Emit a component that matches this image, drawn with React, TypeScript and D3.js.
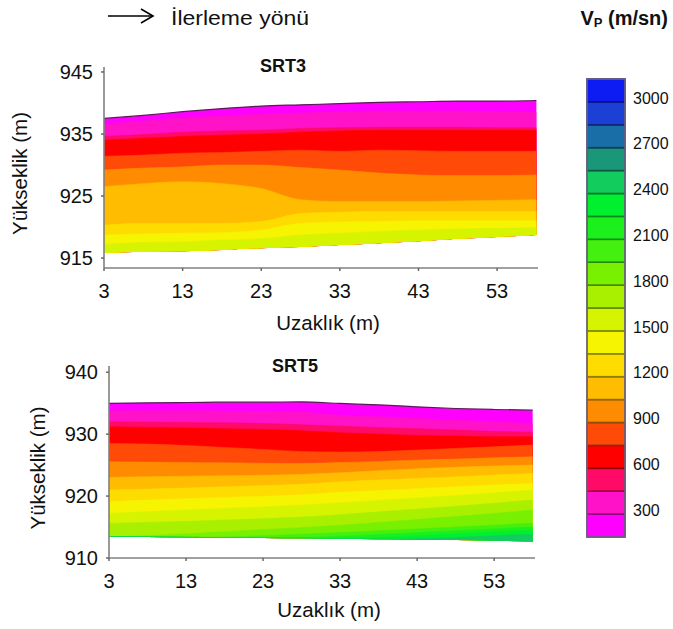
import React from 'react';
import * as d3 from 'd3';

// ---------- DATA ----------
const stations = [3, 8, 13, 18, 23, 28, 33, 38, 43, 48, 53, 58];
const xTicks = [3, 13, 23, 33, 43, 53];

// SRT3 profile: surface, base and iso-velocity lines (elevation, m)
const srt3YTicks = [915, 925, 935, 945];
const srt3Top = [937.5, 938.0, 938.6, 939.1, 939.5, 939.7, 939.9, 940.1, 940.2, 940.3, 940.3, 940.4];
const srt3Bottom = [915.8, 916.0, 916.1, 916.3, 916.6, 916.8, 917.1, 917.4, 917.7, 918.1, 918.4, 918.7];
const srt3Levels = [300, 450, 600, 750, 900, 1050, 1200, 1350, 1500];
const srt3Isolines = [
  [936.6, 937.1, 937.6, 937.9, 938.2, 938.4, 938.6, 938.7, 938.7, 938.7, 938.6, 938.5],
  [934.6, 934.9, 935.3, 935.5, 935.6, 935.9, 936.0, 936.1, 936.1, 936.1, 936.0, 936.0],
  [934.0, 934.3, 934.6, 934.8, 935.0, 935.3, 935.5, 935.6, 935.6, 935.6, 935.6, 935.6],
  [931.4, 931.6, 931.9, 932.0, 932.2, 932.4, 932.2, 932.4, 932.3, 932.2, 932.2, 932.2],
  [929.2, 929.5, 929.7, 930.0, 930.0, 929.6, 929.2, 928.7, 928.4, 928.3, 928.3, 928.4],
  [926.5, 927.0, 927.3, 927.0, 926.2, 924.4, 924.1, 924.1, 924.1, 924.2, 924.3, 924.4],
  [920.3, 920.6, 920.6, 920.6, 920.9, 922.2, 922.4, 922.5, 922.5, 922.5, 922.5, 922.5],
  [918.7, 918.9, 919.0, 919.1, 919.5, 920.6, 920.8, 920.9, 921.0, 921.0, 921.0, 921.0],
  [917.2, 917.5, 917.6, 917.9, 918.1, 918.7, 919.0, 919.3, 919.5, 919.7, 919.8, 919.9],
];

// SRT5 profile
const srt5YTicks = [910, 920, 930, 940];
const srt5Top = [934.95, 935.05, 935.11, 935.16, 935.16, 935.22, 934.95, 934.73, 934.41, 934.14, 933.98, 933.87];
const srt5Bottom = [913.44, 913.39, 913.33, 913.28, 913.23, 913.17, 913.1, 913.01, 912.95, 912.9, 912.8, 912.63];
const srt5Levels = [300, 450, 600, 750, 900, 1050, 1200, 1350, 1500, 1650, 1800, 1950, 2100, 2250, 2400];
const srt5Isolines = [
  [933.76, 933.76, 933.76, 933.71, 933.66, 933.55, 933.06, 932.8, 932.53, 932.26, 931.99, 931.72],
  [931.99, 931.94, 931.88, 931.83, 931.72, 931.51, 931.29, 931.08, 930.86, 930.65, 930.43, 930.32],
  [931.18, 931.08, 930.97, 930.86, 930.75, 930.54, 930.22, 930.0, 929.79, 929.68, 929.57, 929.57],
  [928.5, 928.39, 928.17, 927.85, 927.53, 927.19, 927.1, 927.19, 927.42, 927.69, 927.96, 928.23],
  [925.54, 925.48, 925.43, 925.38, 925.3, 925.25, 925.4, 925.6, 925.8, 925.97, 926.18, 926.34],
  [923.01, 923.12, 923.2, 923.28, 923.35, 923.5, 923.75, 924.1, 924.4, 924.65, 924.85, 925.0],
  [920.97, 921.13, 921.29, 921.51, 921.7, 921.9, 922.3, 922.6, 922.85, 923.1, 923.4, 923.66],
  [919.09, 919.36, 919.57, 919.78, 919.95, 920.2, 920.6, 920.9, 921.2, 921.5, 921.8, 922.04],
  [917.2, 917.47, 917.74, 918.01, 918.25, 918.55, 918.9, 919.3, 919.7, 920.1, 920.5, 920.97],
  [915.59, 915.75, 915.91, 916.13, 916.35, 916.6, 917.0, 917.45, 917.9, 918.35, 918.85, 919.36],
  [913.44, 913.6, 913.9, 914.25, 914.6, 914.9, 915.3, 915.75, 916.2, 916.7, 917.2, 917.74],
  [913.44, 913.39, 913.33, 913.4, 913.6, 913.85, 914.1, 914.4, 914.7, 915.0, 915.3, 915.6],
  [913.44, 913.39, 913.33, 913.28, 913.23, 913.3, 913.5, 913.8, 914.1, 914.4, 914.7, 915.0],
  [913.44, 913.39, 913.33, 913.28, 913.23, 913.17, 913.1, 913.3, 913.6, 913.9, 914.2, 914.5],
  [913.44, 913.39, 913.33, 913.28, 913.23, 913.17, 913.1, 913.01, 913.1, 913.3, 913.6, 913.85],
];

// Colour scale (Vp, m/sn)
const legendBreaks = [150, 300, 450, 600, 750, 900, 1050, 1200, 1350, 1500, 1650, 1800, 1950, 2100, 2250, 2400, 2550, 2700, 2850, 3000, 3150];
const legendColors = [
  '#ff00ff', '#ff12c8', '#ff0a66', '#ff0000', '#ff4a08', '#ff8c00', '#ffbc00', '#ffdc00', '#f6f400', '#d6f400',
  '#a8f000', '#78f000', '#44f010', '#1cf01c', '#00f030', '#12cc5e', '#1a9678', '#1a6ea8', '#1c40d6', '#0c1cf2',
];
const legendLabels = [300, 600, 900, 1200, 1500, 1800, 2100, 2400, 2700, 3000];

// ---------- COMPONENTS ----------
const FONT = '"Liberation Sans", Arial, Helvetica, sans-serif';

const colorOf = d3.scaleThreshold<number, string>()
  .domain(legendBreaks.slice(1, -1))
  .range(legendColors);

type ProfileProps = {
  id: string;
  title: string;
  titleX: number;
  titleY: number;
  top: number[];
  bottom: number[];
  levels: number[];
  isolines: number[][];
  yTicks: number[];
  xRange: [number, number];
  xDomain: [number, number];
  yRange: [number, number];
  yDomain: [number, number];
  yLabelX: number;
  xLabelY: number;
  xTickY: number;
};

function Profile(p: ProfileProps) {
  const x = d3.scaleLinear().domain(p.xDomain).range(p.xRange);
  const y = d3.scaleLinear().domain(p.yDomain).range(p.yRange);
  const idx = stations.map((_, i) => i);
  const uppers = [p.top, ...p.isolines];
  const values = [...p.levels.map((v) => v - 1), p.levels[p.levels.length - 1] + 1];
  const areaOf = (upper: number[]) =>
    d3.area<number>()
      .x((i) => x(stations[i]))
      .y0((i) => y(p.bottom[i]))
      .y1((i) => y(upper[i]))
      .curve(d3.curveMonotoneX)(idx) as string;
  const topLine = d3.line<number>().x((i) => x(stations[i])).y((i) => y(p.top[i])).curve(d3.curveMonotoneX)(idx) as string;
  const [x0, x1] = p.xRange;
  const [yb, yt] = p.yRange;
  const midY = (yb + yt) / 2 + 6;
  return (
    <g>
      <defs>
        <clipPath id={`clip-${p.id}`}>
          <path d={areaOf(p.top)} />
        </clipPath>
      </defs>
      <g clipPath={`url(#clip-${p.id})`}>
        {uppers.map((u, k) => (
          <path key={k} d={areaOf(u)} fill={colorOf(values[k])} stroke={colorOf(values[k])} strokeWidth={0.6} />
        ))}
      </g>
      <path d={topLine} fill="none" stroke="#5a1a5a" strokeWidth={1.2} />
      {/* axes */}
      <line x1={x0} x2={x1} y1={yb} y2={yb} stroke="#808080" strokeWidth={1.6} />
      <line x1={x0} x2={x0} y1={yb} y2={yt} stroke="#808080" strokeWidth={1.6} />
      {xTicks.map((t) => (
        <g key={t}>
          <line x1={x(t)} x2={x(t)} y1={yb} y2={yb + 3} stroke="#606060" strokeWidth={1.4} />
          <text x={x(t)} y={p.xTickY} textAnchor="middle" fontFamily={FONT} fontSize={20} fill="#111">{t}</text>
        </g>
      ))}
      {p.yTicks.map((t) => (
        <g key={t}>
          <line x1={x0 - 3} x2={x0} y1={y(t)} y2={y(t)} stroke="#606060" strokeWidth={1.4} />
          <text x={x0 - 11} y={y(t)} dy="0.36em" textAnchor="end" fontFamily={FONT} fontSize={20} fill="#111">{t}</text>
        </g>
      ))}
      <text x={(x0 + x1) / 2 + 7} y={p.xLabelY} textAnchor="middle" fontFamily={FONT} fontSize={20.5} fill="#111">Uzaklık (m)</text>
      <text transform={`translate(${p.yLabelX},${midY}) rotate(-90)`} textAnchor="middle" fontFamily={FONT} fontSize={20.5} fill="#111">Yükseklik (m)</text>
      <text x={p.titleX} y={p.titleY} textAnchor="middle" fontFamily={FONT} fontSize={18} fontWeight="bold" fill="#111">{p.title}</text>
    </g>
  );
}

function Legend() {
  const ly = d3.scaleLinear().domain([legendBreaks[0], legendBreaks[legendBreaks.length - 1]]).range([537, 79]);
  const bx = 587;
  const bw = 38;
  return (
    <g>
      {legendColors.map((c, i) => (
        <rect key={i} x={bx} y={ly(legendBreaks[i + 1])} width={bw} height={ly(legendBreaks[i]) - ly(legendBreaks[i + 1])}
          fill={c} stroke={d3.color(c)!.darker(1.6).formatHex()} strokeWidth={1.6} />
      ))}
      <rect x={bx} y={ly(legendBreaks[legendBreaks.length - 1])} width={bw}
        height={ly(legendBreaks[0]) - ly(legendBreaks[legendBreaks.length - 1])} fill="none" stroke="#6f6688" strokeWidth={1.6} />
      {legendLabels.map((v) => (
        <text key={v} x={633} y={ly(v) - 4} dy="0.36em" fontFamily={FONT} fontSize={16} fill="#111">{v}</text>
      ))}
    </g>
  );
}

export default function App() {
  return (
    <svg width={673} height={629} viewBox="0 0 673 629" style={{ position: 'absolute', left: 0, top: 0, background: '#fff' }}>
      <rect width={673} height={629} fill="#fff" />
      {/* header */}
      <g stroke="#000" strokeWidth={1.6} fill="none">
        <line x1={108} x2={153} y1={16} y2={16} />
        <polyline points="141,9 153,16 141,23" />
      </g>
      <text x={171} y={25} fontFamily={FONT} fontSize={20.5} fill="#111" textLength={138} lengthAdjust="spacingAndGlyphs">İlerleme yönü</text>
      <text x={668} y={25} textAnchor="end" fontFamily={FONT} fontSize={20} fontWeight="bold" fill="#111">
        V<tspan fontSize={13} dy={2}>P</tspan><tspan dy={-2}> (m/sn)</tspan>
      </text>

      <Profile id="srt3" title="SRT3" titleX={283} titleY={72}
        top={srt3Top} bottom={srt3Bottom} levels={srt3Levels} isolines={srt3Isolines} yTicks={srt3YTicks}
        xDomain={[3, 58.2]} xRange={[104, 538]} yDomain={[913.4, 945.8]} yRange={[268, 67]}
        yLabelX={27} xLabelY={330} xTickY={298} />
      <Profile id="srt5" title="SRT5" titleX={295} titleY={372}
        top={srt5Top} bottom={srt5Bottom} levels={srt5Levels} isolines={srt5Isolines} yTicks={srt5YTicks}
        xDomain={[3, 58.3]} xRange={[109, 535]} yDomain={[910, 941]} yRange={[558, 366]}
        yLabelX={45} xLabelY={617} xTickY={588} />
      <Legend />
    </svg>
  );
}
